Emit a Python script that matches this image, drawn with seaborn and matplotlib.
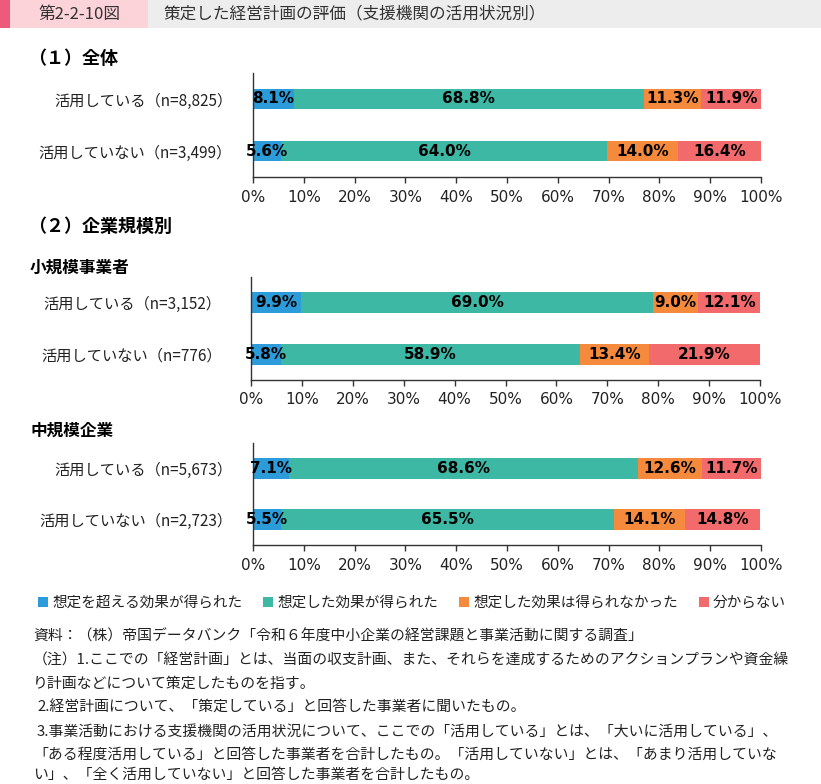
import numpy as np
import pandas as pd
import matplotlib
matplotlib.use("Agg")
import matplotlib.pyplot as plt
from matplotlib.patches import Rectangle, Patch
import seaborn as sns

sns.set_theme(style="white")
plt.rcParams['font.family'] = ['DejaVu Sans', 'Noto Sans CJK JP']
JP = ['Noto Sans CJK JP', 'DejaVu Sans']

# ---------------- data ----------------
series_names = ["想定を超える効果が得られた", "想定した効果が得られた",
                "想定した効果は得られなかった", "分からない"]
colors = ["#2C9BD9", "#3DB8A5", "#F58A3C", "#F26A6C"]

cats_all = ["活用している（n=8,825）", "活用していない（n=3,499）"]
beyond_all = [8.1, 5.6]
expected_all = [68.8, 64.0]
notmet_all = [11.3, 14.0]
unknown_all = [11.9, 16.4]

cats_small = ["活用している（n=3,152）", "活用していない（n=776）"]
beyond_small = [9.9, 5.8]
expected_small = [69.0, 58.9]
notmet_small = [9.0, 13.4]
unknown_small = [12.1, 21.9]

cats_mid = ["活用している（n=5,673）", "活用していない（n=2,723）"]
beyond_mid = [7.1, 5.5]
expected_mid = [68.6, 65.5]
notmet_mid = [12.6, 14.1]
unknown_mid = [11.7, 14.8]

xticks = [0, 10, 20, 30, 40, 50, 60, 70, 80, 90, 100]

W, H = 821, 784
fig = plt.figure(figsize=(W / 100, H / 100), dpi=100)
fig.patch.set_facecolor("white")


def fx(px):
    return px / W


def fy(py):
    return 1 - py / H


# ---------------- header ----------------
fig.patches.append(Rectangle((0, fy(28)), fx(10), 28 / H, transform=fig.transFigure,
                             facecolor="#EE5A7C", edgecolor="none"))
fig.patches.append(Rectangle((fx(10), fy(28)), fx(138), 28 / H, transform=fig.transFigure,
                             facecolor="#FBD3D9", edgecolor="none"))
fig.patches.append(Rectangle((fx(148), fy(28)), 1 - fx(148), 28 / H, transform=fig.transFigure,
                             facecolor="#EDEDED", edgecolor="none"))
fig.text(fx(79), fy(14), "第2-2-10図", ha="center", va="center", fontsize=12,
         family=JP, color="#333333")
fig.text(fx(163), fy(14), "策定した経営計画の評価（支援機関の活用状況別）", ha="left",
         va="center", fontsize=12, family=JP, color="#333333")

# ---------------- section titles ----------------
fig.text(fx(28), fy(58), "（１）全体", ha="left", va="center", fontsize=13,
         fontweight="bold", family=JP, color="black")
fig.text(fx(28), fy(226), "（２）企業規模別", ha="left", va="center", fontsize=13,
         fontweight="bold", family=JP, color="black")
fig.text(fx(30), fy(268), "小規模事業者", ha="left", va="center", fontsize=12,
         fontweight="bold", family=JP, color="black")
fig.text(fx(30), fy(431), "中規模企業", ha="left", va="center", fontsize=12,
         fontweight="bold", family=JP, color="black")


def draw_panel(rect, cats, b, e, n, u, pad):
    ax = fig.add_axes(rect)
    vals = [np.array(b), np.array(e), np.array(n), np.array(u)]
    cums = np.cumsum(vals, axis=0)
    starts = cums - np.array(vals)
    for k in range(3, -1, -1):
        sns.barplot(x=cums[k], y=cats, color=colors[k], orient="h", width=0.4,
                    saturation=1, linewidth=0, ax=ax)
    for k in range(4):
        for i in range(len(cats)):
            v = vals[k][i]
            ax.text(starts[k][i] + v / 2, i, f"{v:.1f}%", ha="center", va="center",
                    fontsize=11, fontweight="bold", color="black", zorder=10)
    ax.set_xlim(0, 100)
    ax.set_ylim(1.5, -0.5)
    ax.set_xticks(xticks)
    ax.set_xticklabels([f"{t}%" for t in xticks], fontsize=11, color="#222222")
    ax.set_yticks(range(len(cats)))
    ax.set_yticklabels(cats, fontsize=11, family=JP, color="#222222")
    ax.set_xlabel("")
    ax.set_ylabel("")
    for s in ["top", "right"]:
        ax.spines[s].set_visible(False)
    for s in ["left", "bottom"]:
        ax.spines[s].set_color("#333333")
        ax.spines[s].set_linewidth(1)
    ax.tick_params(axis="x", direction="out", length=4, width=1, color="#333333", pad=5,
                   bottom=True)
    ax.tick_params(axis="y", length=0, pad=pad)
    ax.set_facecolor("white")
    return ax


draw_panel([fx(253), fy(177), fx(508), 104 / H], cats_all, beyond_all, expected_all,
           notmet_all, unknown_all, 15)
draw_panel([fx(251), fy(380), fx(509), 103 / H], cats_small, beyond_small, expected_small,
           notmet_small, unknown_small, 21)
draw_panel([fx(253), fy(545), fx(508), 102 / H], cats_mid, beyond_mid, expected_mid,
           notmet_mid, unknown_mid, 15)

# ---------------- legend ----------------
handles = [Patch(facecolor=c, edgecolor="none") for c in colors]
leg = fig.legend(handles, series_names, loc="center", bbox_to_anchor=(fx(412), fy(603)),
                 ncol=4, frameon=False, handlelength=0.7, handleheight=0.7,
                 handletextpad=0.3, columnspacing=1.4,
                 prop={"family": JP, "size": 10.5})
for t in leg.get_texts():
    t.set_color("#222222")

# ---------------- notes ----------------
notes = [
    (33, 636, "資料：（株）帝国データバンク「令和６年度中小企業の経営課題と事業活動に関する調査」"),
    (33, 660, "（注）1.ここでの「経営計画」とは、当面の収支計画、また、それらを達成するためのアクションプランや資金繰"),
    (33, 684, "り計画などについて策定したものを指す。"),
    (37, 708, "2.経営計画について、「策定している」と回答した事業者に聞いたもの。"),
    (37, 732, "3.事業活動における支援機関の活用状況について、ここでの「活用している」とは、「大いに活用している」、"),
    (33, 755, "「ある程度活用している」と回答した事業者を合計したもの。「活用していない」とは、「あまり活用していな"),
    (33, 775, "い」、「全く活用していない」と回答した事業者を合計したもの。"),
]
for x, y, s in notes:
    fig.text(fx(x), fy(y), s, ha="left", va="center", fontsize=10.7, family=JP,
             color="#222222")

fig.savefig("out.png", dpi=100, facecolor="white")
